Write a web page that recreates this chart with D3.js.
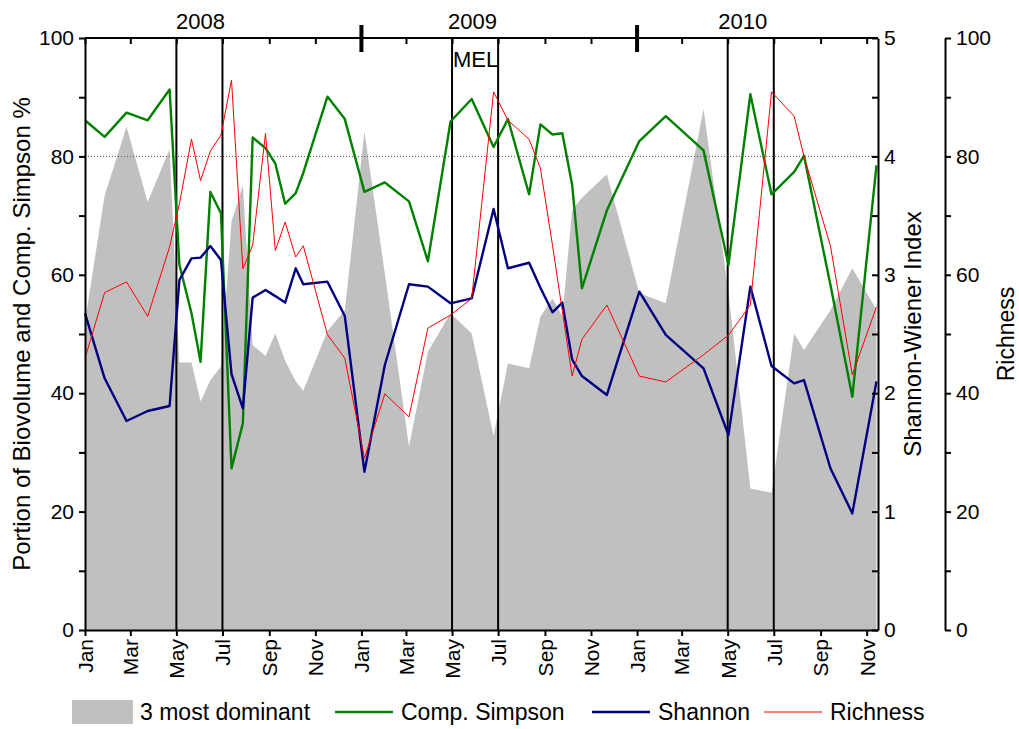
<!DOCTYPE html>
<html><head><meta charset="utf-8">
<script src="https://cdn.jsdelivr.net/npm/d3@7"></script>
<style>body{margin:0;background:#fff;} svg{display:block;font-family:"Liberation Sans",Arial,sans-serif;}</style>
</head><body><svg id="chart" width="1019" height="729"></svg>
<script>
// ---------------- DATA ----------------
const sampleDates = [
 "2008-01-01","2008-01-27","2008-02-25","2008-03-24","2008-04-22","2008-05-05","2008-05-21","2008-06-02",
 "2008-06-15","2008-06-29","2008-07-13","2008-07-28","2008-08-10","2008-08-27","2008-09-09","2008-09-22",
 "2008-10-06","2008-10-16","2008-11-17","2008-12-10","2009-01-05","2009-02-01","2009-03-05","2009-03-30",
 "2009-04-29","2009-05-27","2009-06-25","2009-07-14","2009-08-11","2009-08-26","2009-09-11","2009-09-24",
 "2009-10-07","2009-10-20","2009-11-22","2010-01-04","2010-02-08","2010-03-30","2010-05-02","2010-05-31",
 "2010-06-28","2010-07-28","2010-08-10","2010-09-14","2010-10-13","2010-11-14"];
const dominant3 = [52,73.4,85.0,72.3,81.2,45.2,45.2,38.6,42.2,44.5,69.0,75.1,48.1,46.3,50.1,45.5,
 42.0,40.4,50.5,54.0,84.2,60.2,31.0,47.0,53.5,50.1,32.8,45.0,44.2,52.9,56.0,53.0,
 70.9,73.0,77.0,56.9,55.2,88.0,57.0,23.9,23.2,50.1,47.3,54.0,61.1,54.1];
const compSimpson = [86.1,83.3,87.4,86.1,91.3,61.7,53.5,45.3,74.0,70.4,27.3,34.9,83.2,81.4,78.8,72.0,
 73.8,77.2,90.1,86.3,74.0,75.6,72.4,62.3,85.9,89.7,81.6,86.3,73.6,85.4,83.7,83.9,
 75.2,57.7,70.9,82.6,86.8,81.0,61.7,90.5,73.6,77.4,80.1,58.3,39.4,78.5];
const shannon = [2.675,2.126,1.765,1.850,1.892,2.956,3.139,3.145,3.243,3.125,2.162,1.872,2.807,2.872,2.82,2.765,
 3.055,2.920,2.942,2.652,1.337,2.238,2.920,2.900,2.759,2.801,3.556,3.055,3.102,2.89,2.683,2.765,
 2.286,2.145,1.985,2.857,2.492,2.210,1.647,2.900,2.230,2.083,2.111,1.366,0.985,2.10];
const richness = [45.9,57.0,58.8,53.0,64.7,72.0,82.9,75.9,80.9,83.6,92.9,61.0,65.0,83.9,64.1,68.9,
 63.0,64.9,49.9,45.9,29.0,39.9,36.0,51.0,53.2,56.0,90.9,86.1,82.9,78.0,65.0,53.9,
 42.9,49.1,54.9,42.9,41.9,46.5,49.8,54.9,90.9,86.8,80.0,64.9,43.1,54.6];
const leftTicks = [0,20,40,60,80,100];
const shannonTicks = [0,1,2,3,4,5];
const richnessTicks = [0,20,40,60,80,100];
const yearLabels = ["2008","2009","2010"];
const periodBoundaries = ["2008-05-01","2008-07-01","2009-05-01","2009-07-01","2010-05-01","2010-07-01"];
const yearBreaks = ["2009-01-01","2010-01-01"];
const refLevel = 80;
const annotation = {text:"MEL", date:"2009-05-01"};
const legendItems = [
  {label:"3 most dominant", type:"area"},
  {label:"Comp. Simpson", type:"green"},
  {label:"Shannon", type:"navy"},
  {label:"Richness", type:"red"}];

// ---------------- CHART ----------------
const parse = d3.timeParse("%Y-%m-%d");
const dates = sampleDates.map(parse);
const svg = d3.select("#chart");
const L = 85, R = 878, T = 38, B = 630;
const x = d3.scaleTime().domain([parse("2008-01-01"), parse("2010-11-16")]).range([L, R]);
const yL = d3.scaleLinear().domain([0,100]).range([B, T]);
const yS = d3.scaleLinear().domain([0,5]).range([B, T]);
const yR = d3.scaleLinear().domain([0,100]).range([B, T]);
const colors = {area:"#c0c0c0", green:"#008000", navy:"#000080", red:"#ff0000"};
const FS = 21;

// area
const area = d3.area().x((d,i)=>x(dates[i])).y0(B).y1(d=>yL(d));
svg.append("path").datum(dominant3).attr("d", area).attr("fill", colors.area);

// dotted reference
svg.append("line").attr("x1",L).attr("x2",R).attr("y1",yL(refLevel)).attr("y2",yL(refLevel))
  .attr("stroke","#555").attr("stroke-width",1).attr("stroke-dasharray","1,2");

// period lines
periodBoundaries.forEach(s=>{
  svg.append("line").attr("x1",x(parse(s))).attr("x2",x(parse(s))).attr("y1",T).attr("y2",B)
    .attr("stroke","#000").attr("stroke-width",2);
});

// series lines
const lineL = d3.line().x((d,i)=>x(dates[i])).y(d=>yL(d));
const lineS = d3.line().x((d,i)=>x(dates[i])).y(d=>yS(d));
svg.append("path").datum(compSimpson).attr("d",lineL).attr("fill","none").attr("stroke",colors.green).attr("stroke-width",2.4).attr("stroke-linejoin","round");
svg.append("path").datum(shannon).attr("d",lineS).attr("fill","none").attr("stroke",colors.navy).attr("stroke-width",2.4).attr("stroke-linejoin","round");
svg.append("path").datum(richness).attr("d",lineL).attr("fill","none").attr("stroke",colors.red).attr("stroke-width",1);

// frame
svg.append("line").attr("x1",L).attr("x2",R).attr("y1",T).attr("y2",T).attr("stroke","#000").attr("stroke-width",2);

// bottom axis
const monthTicks = d3.timeMonth.range(parse("2008-01-01"), parse("2010-11-16"), 2);
const gB = svg.append("g").attr("transform",`translate(0,${B})`)
  .call(d3.axisBottom(x).tickValues(monthTicks).tickFormat(d3.timeFormat("%b")).tickSize(6).tickSizeOuter(0));
gB.selectAll("text").attr("transform","rotate(-90)").attr("text-anchor","end")
  .attr("x",-9).attr("y",0).attr("dy","0.35em").style("font-size",FS+"px").style("font-family","inherit");

// top axis ticks (inward)
const gT = svg.append("g").attr("transform",`translate(0,${T})`)
  .call(d3.axisTop(x).tickValues(monthTicks).tickFormat("").tickSize(-6).tickSizeOuter(0));
gT.select(".domain").remove();
yearBreaks.forEach(s=>{
  svg.append("line").attr("x1",x(parse(s))).attr("x2",x(parse(s))).attr("y1",25).attr("y2",52)
    .attr("stroke","#000").attr("stroke-width",4);
});
const yearLabelAt = {"2008":"2008-06-02","2009":"2009-05-28","2010":"2010-05-21"};
yearLabels.forEach(y=>{
  svg.append("text").attr("x",x(parse(yearLabelAt[y]))).attr("y",29).attr("text-anchor","middle")
    .style("font-size","22px").text(y);
});

// MEL annotation
svg.append("text").attr("x",x(parse(annotation.date))+1).attr("y",67).style("font-size","22px").text(annotation.text);

// left axis
const gL = svg.append("g").attr("transform",`translate(${L},0)`)
  .call(d3.axisLeft(yL).tickValues(d3.range(0,101,10)).tickFormat(d=>leftTicks.includes(d)?d:"").tickSize(6).tickSizeOuter(0));
gL.selectAll("text").style("font-size",FS+"px").style("font-family","inherit").attr("x",-11);

// shannon axis
const gS = svg.append("g").attr("transform",`translate(${R},0)`)
  .call(d3.axisRight(yS).tickValues(d3.range(0,5.01,0.5)).tickFormat(d=>shannonTicks.includes(d)?d:"").tickSize(-6).tickSizeOuter(0));
gS.selectAll("text").style("font-size",FS+"px").style("font-family","inherit").attr("x",6);

// richness axis
const RX = 945;
const gR = svg.append("g").attr("transform",`translate(${RX},0)`)
  .call(d3.axisRight(yR).tickValues(d3.range(0,101,10)).tickFormat(d=>richnessTicks.includes(d)?d:"").tickSize(6).tickSizeOuter(0));
gR.selectAll("text").style("font-size",FS+"px").style("font-family","inherit").attr("x",11);

[gB,gL,gS,gR,gT].forEach(g=>{g.selectAll("line").attr("stroke-width",2); g.selectAll(".domain").attr("stroke-width",2);});

// axis titles
const TS = 24;
svg.append("text").attr("transform",`translate(30,${(T+B)/2}) rotate(-90)`).attr("text-anchor","middle")
  .style("font-size",TS+"px").text("Portion of Biovolume and Comp. Simpson %");
svg.append("text").attr("transform",`translate(921,${(T+B)/2}) rotate(-90)`).attr("text-anchor","middle")
  .style("font-size",TS+"px").text("Shannon-Wiener Index");
svg.append("text").attr("transform",`translate(1014,${(T+B)/2}) rotate(-90)`).attr("text-anchor","middle")
  .style("font-size","23px").text("Richness");

// legend
const lg = svg.append("g");
const lx = [72, 335, 592, 764];
legendItems.forEach((it,i)=>{
  if(it.type==="area"){
    lg.append("rect").attr("x",lx[i]).attr("y",700).attr("width",61).attr("height",24).attr("fill",colors.area);
  } else {
    lg.append("line").attr("x1",lx[i]).attr("x2",lx[i]+58).attr("y1",712).attr("y2",712)
      .attr("stroke",colors[it.type]).attr("stroke-width",it.type==="red"?1:2.4);
  }
  lg.append("text").attr("x",lx[i]+(it.type==="area"?68:66)).attr("y",720).style("font-size","23px").text(it.label);
});
</script></body></html>
